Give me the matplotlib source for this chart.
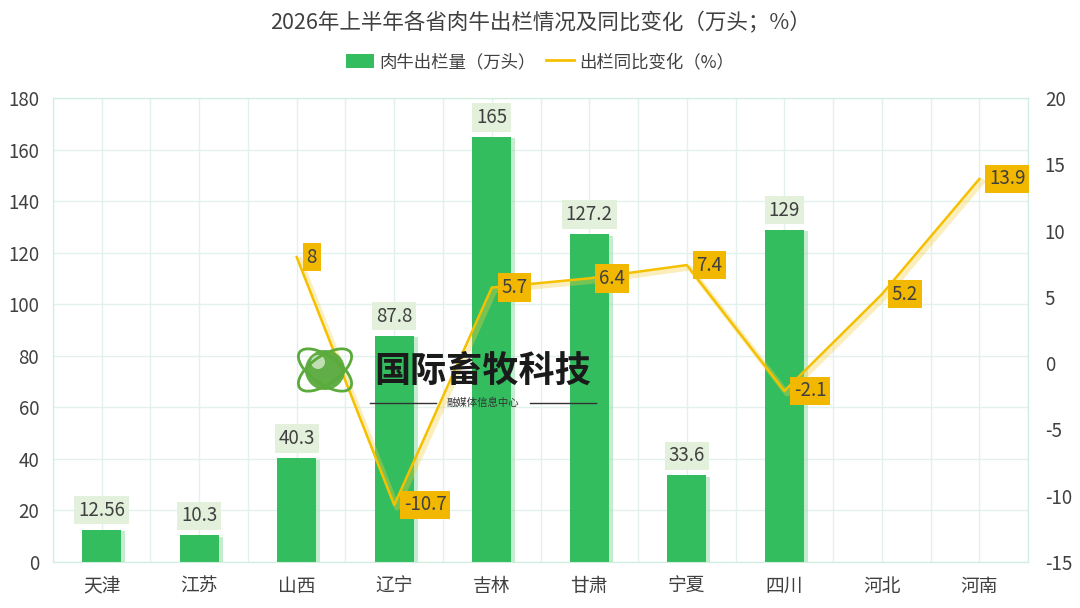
import numpy as np
import matplotlib.pyplot as plt
import matplotlib.patheffects as pe
from matplotlib.patches import Circle, Ellipse, Patch
from matplotlib.lines import Line2D

plt.rcParams['font.family'] = ['Noto Sans CJK SC', 'DejaVu Sans']
plt.rcParams['axes.unicode_minus'] = False

# 数据
provinces = ["天津", "江苏", "山西", "辽宁", "吉林", "甘肃", "宁夏", "四川", "河北", "河南"]
slaughter = [12.56, 10.3, 40.3, 87.8, 165, 127.2, 33.6, 129, np.nan, np.nan]
yoy_change = [np.nan, np.nan, 8, -10.7, 5.7, 6.4, 7.4, -2.1, 5.2, 13.9]
bar_labels = ["12.56", "10.3", "40.3", "87.8", "165", "127.2", "33.6", "129", "", ""]
line_labels = ["", "", "8", "-10.7", "5.7", "6.4", "7.4", "-2.1", "5.2", "13.9"]

bar_color = '#33bd5f'
line_color = '#f5c000'
text_color = '#404040'
grid_color = '#e1f1ec'

fig = plt.figure(figsize=(10.8, 6.08), dpi=100)
ax = fig.add_axes([0.049, 0.0757, 0.903, 0.763])
ax2 = ax.twinx()

x = np.arange(len(provinces))

# 柱状图
bars = ax.bar(x, slaughter, width=0.4, color=bar_color, zorder=3,
              path_effects=[pe.SimplePatchShadow(offset=(3, -1), shadow_rgbFace='#9ee0b0', alpha=0.6),
                            pe.Normal()])
for xi, v, lab in zip(x, slaughter, bar_labels):
    if np.isnan(v):
        continue
    ax.annotate(lab, (xi, v), xytext=(0, 14), textcoords='offset points',
                ha='center', va='center', fontsize=13.5, color=text_color, zorder=5,
                bbox=dict(boxstyle='square,pad=0.2', fc='#e3f1dc', ec='none'))

ax.set_xlim(-0.5, len(provinces) - 0.5)
ax.set_ylim(0, 180)
ax.set_yticks(np.arange(0, 181, 20))

# 折线图
ax2.plot(x, yoy_change, color=line_color, lw=1.8, zorder=4,
         path_effects=[pe.SimpleLineShadow(offset=(2, -2), shadow_color='#f5d040', alpha=0.35, linewidth=4),
                       pe.Normal()])
for xi, v, lab in zip(x, yoy_change, line_labels):
    if np.isnan(v):
        continue
    ax2.annotate(lab, (xi, v), xytext=(7, 0), textcoords='offset points',
                 ha='left', va='center', fontsize=13.5, color=text_color, zorder=6,
                 bbox=dict(boxstyle='square,pad=0.2', fc='#f2b800', ec='none'))
ax2.set_ylim(-15, 20)
ax2.set_yticks(np.arange(-15, 21, 5))

# 网格
ax.set_xticks(np.arange(-0.5, len(provinces), 1.0), minor=True)
ax.grid(True, which='minor', axis='x', color=grid_color, lw=1, zorder=0)
ax.grid(True, which='major', axis='x', color=grid_color, lw=1, zorder=0)
ax.grid(True, which='major', axis='y', color=grid_color, lw=1, zorder=0)
ax.set_axisbelow(True)
ax.set_xticks(x)
ax.set_xticklabels(provinces)

for a in (ax, ax2):
    for s in a.spines.values():
        s.set_color('#cfeedd')
    a.tick_params(which='both', length=0, labelsize=13.5, colors=text_color)
ax.tick_params(axis='x', pad=10)
ax.tick_params(axis='y', pad=10)
ax2.tick_params(axis='y', pad=12)
ax2.set_zorder(ax.get_zorder() + 1)
ax2.patch.set_visible(False)

# 标题与图例
fig.text(0.5, 0.962, "2026年上半年各省肉牛出栏情况及同比变化（万头；%）", ha='center', va='center',
         fontsize=15.5, color=text_color)
handles = [Patch(fc=bar_color, ec='none'), Line2D([], [], color=line_color, lw=2)]
fig.legend(handles, ["肉牛出栏量（万头）", "出栏同比变化（%）"], loc='center',
           bbox_to_anchor=(0.5, 0.898), ncol=2, frameon=False, fontsize=12.5,
           handlelength=1.6, handleheight=0.9, columnspacing=0.6, handletextpad=0.3,
           labelcolor=text_color)

# 水印
wm = fig.add_axes([0, 0, 1, 1], zorder=10)
wm.set_xlim(0, 1080)
wm.set_ylim(608, 0)
wm.axis('off')
wm.add_patch(Circle((325, 370), 20, fc='#5aaa3c', ec='none', alpha=0.95))
wm.add_patch(Circle((318, 362), 7, fc='white', ec='none', alpha=0.6))
wm.add_patch(Ellipse((325, 370), 62, 28, angle=35, fc='none', ec='#5aaa3c', lw=2))
wm.add_patch(Ellipse((325, 370), 62, 28, angle=-35, fc='none', ec='#5aaa3c', lw=2))
wm.text(483, 371, "国际畜牧科技", ha='center', va='center', fontsize=26,
        fontweight='bold', color='#1a1a1a')
wm.text(483, 403, "融媒体信息中心", ha='center', va='center', fontsize=7.5, color='#333333')
wm.plot([370, 436], [403, 403], color='#333333', lw=1)
wm.plot([530, 596], [403, 403], color='#333333', lw=1)

fig.savefig('out.png', dpi=100, facecolor='white')
